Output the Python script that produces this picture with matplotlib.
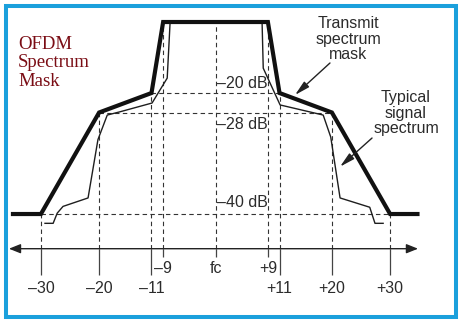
"""
OFDM spectrum mask sketch
Transmit mask vs typical signal spectrum, schematic level axis
"""

import numpy as np
import matplotlib
matplotlib.use('Agg')
import matplotlib.pyplot as plt
from matplotlib.patches import Rectangle

#------------------------------------------------------------------#
# Data: offset from fc (MHz) and level (dB)

MASK_F = [-34.8, -30, -20, -11, -9, 9, 11, 20, 30, 34.7]
MASK_DB = [-40, -40, -28, -20, 0, 0, -20, -28, -40, -40]

SIG_F = [-29.3, -27.9, -27.2, -26.2, -21.9, -20.2, -18.6, -16.4, -10.9, -8.3, -7.8,
         8.0, 8.2, 11.1, 18.5, 19.8, 21.4, 26.5, 27.4, 28.8]
SIG_DB = [-41.1, -41.1, -39.9, -39.1, -38.1, -31.2, -28.3, -27.7, -24.1, -15.8, 0,
          0, -13.0, -24.9, -28.3, -30.9, -38.1, -39.2, -41.1, -41.1]

# dashed guides
HGUIDE_DB = [-20, -28, -40]
HGUIDE_F = [11, 20, 30]
VGUIDE_F = [-30, -20, -11, -9, 0, 9, 11, 20, 30]
VGUIDE_DB = [-40, -28, -20, 0, 0, 0, -20, -28, -40]

TICK_F = [-30, -20, -11, -9, 0, 9, 11, 20, 30]
TICK_LABELS = ['\u201330', '\u201320', '\u201311', '\u20139', 'fc', '+9', '+11', '+20', '+30']
TICK_LOW = [1, 1, 1, 0, 0, 0, 1, 1, 1]  # 1 = long tick, label on lower row

DB_LABELS = ['\u201320 dB', '\u201328 dB', '\u201340 dB']

AXIS_DB = -44.1  # where the frequency axis sits

#------------------------------------------------------------------#
# Schematic (non-linear) level scale, as drawn in the sketch

SCALE_DB = [-80, -40, -28, -20, 0, 20]
SCALE_PX = [214 + 40 * 8.46, 214, 112.5, 93, 22, 22 - 20 * 3.55]

def fwd(db):
    return -np.interp(db, SCALE_DB, SCALE_PX)

def inv(pos):
    return np.interp(-np.asarray(pos), SCALE_PX[::-1], SCALE_DB[::-1])

SANS = ['Liberation Sans Narrow', 'Liberation Sans', 'DejaVu Sans']
TXT = '#2b2b2b'

#------------------------------------------------------------------#

fig = plt.figure(figsize=(4.61, 3.24), dpi=100)
ax = fig.add_axes([0, 0, 1, 1])
ax.set_yscale('function', functions=(fwd, inv))
ax.set_xlim(-37.03, 42.18)
ax.set_ylim(-53.0, 6.2)
ax.axis('off')

dash = dict(color='#333333', lw=0.8, linestyle=(0, (4, 3)))
ax.hlines(HGUIDE_DB, [-f for f in HGUIDE_F], HGUIDE_F, **dash)
ax.vlines(VGUIDE_F, AXIS_DB, VGUIDE_DB, **dash)

# signal and mask
ax.plot(SIG_F, SIG_DB, color='#1e1e1e', lw=1.0)
ax.plot(MASK_F, MASK_DB, color='#111111', lw=3.0, solid_joinstyle='miter')

# frequency axis
ax.annotate('', xy=(34.8, AXIS_DB), xytext=(-35.5, AXIS_DB),
            arrowprops=dict(arrowstyle='<|-|>,head_length=0.7,head_width=0.28',
                            mutation_scale=10, color='#222222', lw=1.0,
                            shrinkA=0, shrinkB=0))
xt = ax.get_xaxis_transform()
for f, lab, low in zip(TICK_F, TICK_LABELS, TICK_LOW):
    ybot = 0.151 if low else 0.207
    ax.vlines(f, ybot, 0.2315, transform=xt, color='#444444', lw=0.9)
    ax.text(f, 0.111 if low else 0.170, lab, transform=xt, ha='center', va='center',
            fontsize=11.5, family=SANS, color=TXT)

# level labels
for lab, fy in zip(DB_LABELS, [0.7429, 0.6142, 0.3744]):
    ax.text(0.4707, fy, lab, transform=ax.transAxes, ha='left', va='center',
            fontsize=11.5, family=SANS, color=TXT)

# callouts
ax.text(0.7549, 0.8796, 'Transmit\nspectrum\nmask', transform=ax.transAxes,
        ha='center', va='center', ma='center', linespacing=1.05,
        fontsize=11.5, family=SANS, color=TXT)
ax.text(0.8807, 0.6512, 'Typical\nsignal\nspectrum', transform=ax.transAxes,
        ha='center', va='center', ma='center', linespacing=1.05,
        fontsize=11.5, family=SANS, color=TXT)
arr = dict(arrowstyle='-|>,head_length=0.9,head_width=0.22', mutation_scale=10,
           color='#222222', lw=1.0, shrinkA=0, shrinkB=0)
ax.annotate('', xy=(13.66, -20.8), xytext=(0.7158, 0.8056),
            textcoords='axes fraction', arrowprops=arr)
ax.annotate('', xy=(21.4, -34.4), xytext=(0.807, 0.574),
            textcoords='axes fraction', arrowprops=arr)

ax.text(0.039, 0.8056, 'OFDM\nSpectrum\nMask', transform=ax.transAxes,
        ha='left', va='center', ma='left', linespacing=1.1,
        fontsize=13.5, family='Liberation Serif', color='#7a0c14')

# blue frame
fig.patches.append(Rectangle((6 / 461, 1 - 317 / 324), 450 / 461, 311.5 / 324,
                             transform=fig.transFigure, fill=False,
                             edgecolor='#1ba0dc', lw=2.9))

fig.savefig('out.png', dpi=100)
